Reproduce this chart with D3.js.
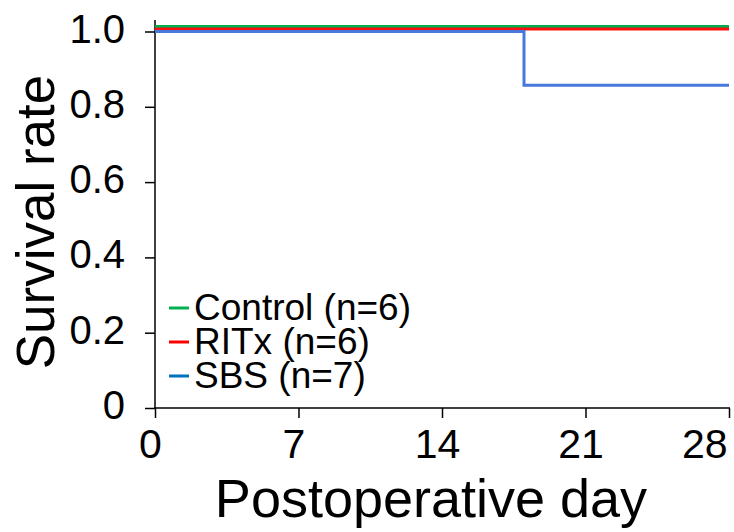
<!DOCTYPE html>
<html><head><meta charset="utf-8">
<script src="https://cdn.jsdelivr.net/npm/d3@7"></script>
<style>body{margin:0;background:#fff}svg{display:block}text{font-family:"Liberation Sans",Arial,sans-serif;fill:#000}</style>
</head><body>
<svg id="c" width="734" height="532"></svg>
<script>
const seriesNames = ["Control (n=6)", "RITx (n=6)", "SBS (n=7)"];
const controlDays = [0, 28];
const controlSurv = [1, 1];
const ritxDays = [0, 28];
const ritxSurv = [1, 1];
const sbsDays = [0, 18, 28];
const sbsSurv = [1, 6/7, 6/7];
const xTicks = [0, 7, 14, 21, 28];
const yTicks = [0, 0.2, 0.4, 0.6, 0.8, 1.0];
const yTickLabels = ["0", "0.2", "0.4", "0.6", "0.8", "1.0"];
const lineColors = ["#00b050", "#ff1010", "#4878dc"];
const legendColors = ["#00b050", "#ff0000", "#0070c0"];
const pixOffsets = [-5, -2.5, 0];

const svg = d3.select("#c");
const x = d3.scaleLinear().domain([0, 28]).range([155, 729]);
const y = d3.scaleLinear().domain([0, 1]).range([408, 31.5]);

// axes
const yAxis = d3.axisLeft(y).tickValues(yTicks).tickFormat((d,i)=>yTickLabels[i]).tickSize(10).tickSizeOuter(0);
const gy = svg.append("g").attr("transform","translate(155,0)").call(yAxis);
gy.select(".domain").remove();
gy.selectAll(".tick line").attr("stroke","#000").attr("stroke-width",1.5);
gy.selectAll(".tick text").attr("x",-30).attr("dy","10.5px").style("font-size","40px").attr("font-family","Liberation Sans, Arial, sans-serif");
svg.append("line").attr("x1",155).attr("x2",155).attr("y1",20).attr("y2",408.5).attr("stroke","#000").attr("stroke-width",1.5);

const xAxis = d3.axisBottom(x).tickValues(xTicks).tickSize(10).tickSizeOuter(0);
const gx = svg.append("g").attr("transform","translate(0,408)").call(xAxis);
gx.select(".domain").remove();
gx.selectAll(".tick line").attr("stroke","#000").attr("stroke-width",1.5);
gx.selectAll(".tick text").attr("y",50).attr("dy","0").attr("dx",-5).style("font-size","41px").attr("font-family","Liberation Sans, Arial, sans-serif");
gx.selectAll(".tick text").filter(d=>d===28).attr("text-anchor","end").attr("dx",0).attr("x",-2);
svg.append("line").attr("x1",154).attr("x2",730).attr("y1",408).attr("y2",408).attr("stroke","#000").attr("stroke-width",1.5);

// survival step lines
const data = [[controlDays, controlSurv],[ritxDays, ritxSurv],[sbsDays, sbsSurv]];
const line = d3.line().x(d=>x(d[0])).y(d=>y(d[1])).curve(d3.curveStepAfter);
data.forEach((s,i)=>{
  const pts = s[0].map((t,j)=>[t, s[1][j]]);
  svg.append("path").datum(pts).attr("d", line).attr("fill","none")
    .attr("stroke", lineColors[i]).attr("stroke-width",3)
    .attr("transform", `translate(0,${pixOffsets[i]})`);
});

// legend
seriesNames.forEach((n,i)=>{
  const yy = 308 + i*34;
  svg.append("line").attr("x1",169).attr("x2",189).attr("y1",yy).attr("y2",yy).attr("stroke",legendColors[i]).attr("stroke-width",3);
  svg.append("text").attr("x",194).attr("y",yy+12).style("font-size","37px").text(n);
});

// axis titles
svg.append("text").attr("x",431).attr("y",517).attr("text-anchor","middle").style("font-size","54px").text("Postoperative day");
svg.append("text").attr("transform","translate(54,222) rotate(-90)").attr("text-anchor","middle").style("font-size","53px").text("Survival rate");
</script>
</body></html>
